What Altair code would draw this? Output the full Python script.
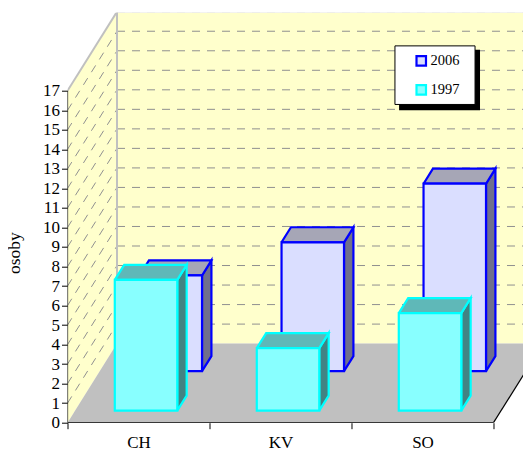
import altair as alt
import pandas as pd

categories = ["CH", "KV", "SO"]
values_2006 = [4.9, 6.6, 9.6]
values_1997 = [6.7, 3.2, 5.0]
grid_levels = list(range(1, 18))
y_ticks = list(range(0, 18))

SERIF = "Liberation Serif"
DX, DY = 0.3486, 4.05          # projection of the full chart depth, in axis units
BAR_L, BAR_W = 0.28, 0.44      # bar position inside a category
BAR_D = 0.19                   # bar depth
XMAX, YMAX = 3.2077, 21.0

xs = alt.Scale(domain=[0, XMAX], range=[0, 455.5], nice=False, zero=False)
ys = alt.Scale(domain=[0, YMAX], range=[410, 0], nice=False, zero=False)

label_expr = "".join(f"datum.value=={i+0.5}?'{c}':" for i, c in enumerate(categories)) + "''"
x_axis = alt.Axis(values=[0, 0.5, 1, 1.5, 2, 2.5, 3], title=None, grid=False, domain=False,
                  labelExpr=label_expr, labelFont=SERIF, labelFontSize=17, labelColor="black",
                  labelAngle=0, tickColor="black", tickSize=6, tickWidth=1, labelPadding=6,
                  tickOpacity={"condition": {"test": "datum.value % 1 == 0", "value": 1}, "value": 0},
                  labelOverlap=False)
y_axis = alt.Axis(values=y_ticks, title="osoby", grid=False, domain=False, format="d",
                  labelFont=SERIF, labelFontSize=17, labelColor="black", tickColor="black",
                  tickSize=6, tickWidth=1, labelPadding=2, labelOverlap=False,
                  titleFont=SERIF, titleFontSize=17.5, titleFontWeight="normal", titleColor="black",
                  titleX=-44.5, titleY=240, titleAngle=270)


def X(name="x"):
    return alt.X(f"{name}:Q", scale=xs, axis=x_axis)


def Y(name="y"):
    return alt.Y(f"{name}:Q", scale=ys, axis=y_axis)


def polygons(polys, fill, stroke=None, sw=0):
    # every polygon is a closed outline of (x, y) corners in axis units
    rows = []
    for p, corners in enumerate(polys):
        for i, (x, y) in enumerate(list(corners) + [corners[0]]):
            rows.append({"p": p, "i": i, "x": x, "y": y})
    kw = dict(fill=fill, clip=True, interpolate="linear", strokeJoin="miter",
              stroke=stroke or fill, strokeWidth=sw if stroke else 0.01)
    return alt.Chart(pd.DataFrame(rows)).mark_line(**kw).encode(
        x=X(), y=Y(), detail="p:N", order="i:Q")


def rules(rows, color, sw=1, dash=None, clip=True):
    kw = dict(color=color, strokeWidth=sw, clip=clip)
    if dash:
        kw["strokeDash"] = dash
    return alt.Chart(pd.DataFrame(rows)).mark_rule(**kw).encode(
        x=X(), x2="x2:Q", y=Y(), y2="y2:Q")


# walls and floor -----------------------------------------------------------
back_wall = polygons([[(DX, DY), (XMAX, DY), (XMAX, YMAX), (DX, YMAX)]], "#FFFFCC")
side_wall = polygons([[(0, 0), (DX, DY), (DX, 17 + DY), (0, 17)]], "#FFFFCC")
floor = polygons([[(0, 0), (3, 0), (3 + DX, DY), (DX, DY)]], "#C0C0C0")

back_grid = rules([{"x": DX, "x2": XMAX, "y": v + DY, "y2": v + DY} for v in grid_levels[:-1]],
                  "#909090", 1, [8, 7])
side_grid = rules([{"x": 0, "x2": DX, "y": v, "y2": v + DY} for v in grid_levels[:-1]],
                  "#909090", 1, [8, 7])
wall_edges = rules([{"x": DX, "x2": DX, "y": DY, "y2": 17 + DY},
                    {"x": 0, "x2": DX, "y": 17, "y2": 17 + DY},
                    {"x": DX, "x2": XMAX, "y": 17 + DY, "y2": 17 + DY}], "#C0C0C0", 2)
top_dash = rules([{"x": DX, "x2": XMAX, "y": 17 + DY, "y2": 17 + DY}], "#A0A0A0", 1, [8, 7])
black_edges = rules([{"x": 0, "x2": 0, "y": 0, "y2": 17},
                     {"x": 0, "x2": 3, "y": 0, "y2": 0},
                     {"x": 3, "x2": 3 + DX, "y": 0, "y2": DY}], "black", 1.2)


# bars ----------------------------------------------------------------------
def bar_layers(values, depth, series, line, top_fill, side_fill):
    sx, sy = DX * depth, DY * depth
    ox, oy = DX * BAR_D, DY * BAR_D
    sides, tops, fronts = [], [], []
    for i, v in enumerate(values):
        l = i + BAR_L + sx
        r = l + BAR_W
        b = sy
        t = b + v
        sides.append([(r, b), (r + ox, b + oy), (r + ox, t + oy), (r, t)])
        tops.append([(l, t), (r, t), (r + ox, t + oy), (l + ox, t + oy)])
        fronts.append({"series": series, "x": l, "x2": r, "y": b, "y2": t})
    front = alt.Chart(pd.DataFrame(fronts)).mark_rect(strokeWidth=2.2, opacity=1).encode(
        x=X(), x2="x2:Q", y=Y(), y2="y2:Q",
        fill=alt.Fill("series:N", scale=fill_scale, legend=legend),
        stroke=alt.Stroke("series:N", scale=stroke_scale, legend=legend))
    return [polygons(sides, side_fill, line, 2.2), polygons(tops, top_fill, line, 2.2), front]


legend = alt.Legend(title=None, orient="none", legendX=346.5, legendY=41, symbolType="square",
                    symbolSize=90, symbolStrokeWidth=2.2, labelFont=SERIF, labelFontSize=14.5,
                    labelColor="black", labelOffset=2, rowPadding=10, padding=0)
fill_scale = alt.Scale(domain=["2006", "1997"], range=["#DADEFF", "#88FFFF"])
stroke_scale = alt.Scale(domain=["2006", "1997"], range=["#0000FF", "#00FFFF"])

back_bars = bar_layers(values_2006, 0.652, "2006", "#0000FF", "#A6A6B6", "#70708C")
front_bars = bar_layers(values_1997, 0.152, "1997", "#00FFFF", "#5FB8B8", "#428383")

# legend box with its shadow, in axis units ----------------------------------
shadow = alt.Chart(pd.DataFrame([{"x": 2.335, "x2": 2.905, "y": 16.0, "y2": 19.1}])).mark_rect(
    fill="black").encode(x=X(), x2="x2:Q", y=Y(), y2="y2:Q")
box = alt.Chart(pd.DataFrame([{"x": 2.306, "x2": 2.870, "y": 16.3, "y2": 19.3}])).mark_rect(
    fill="white", stroke="black", strokeWidth=1).encode(x=X(), x2="x2:Q", y=Y(), y2="y2:Q")

chart = alt.layer(
    back_wall, side_wall, floor, back_grid, side_grid, wall_edges, top_dash,
    black_edges, *back_bars, *front_bars, shadow, box
).properties(
    width=455.5, height=410, background="white",
    padding={"left": 59.5, "top": 4.7, "right": 0, "bottom": 32},
    autosize=alt.AutoSizeParams(type="none"),
).configure_view(strokeWidth=0)

chart.save("out.html", embed_options={"renderer": "svg", "actions": False})
